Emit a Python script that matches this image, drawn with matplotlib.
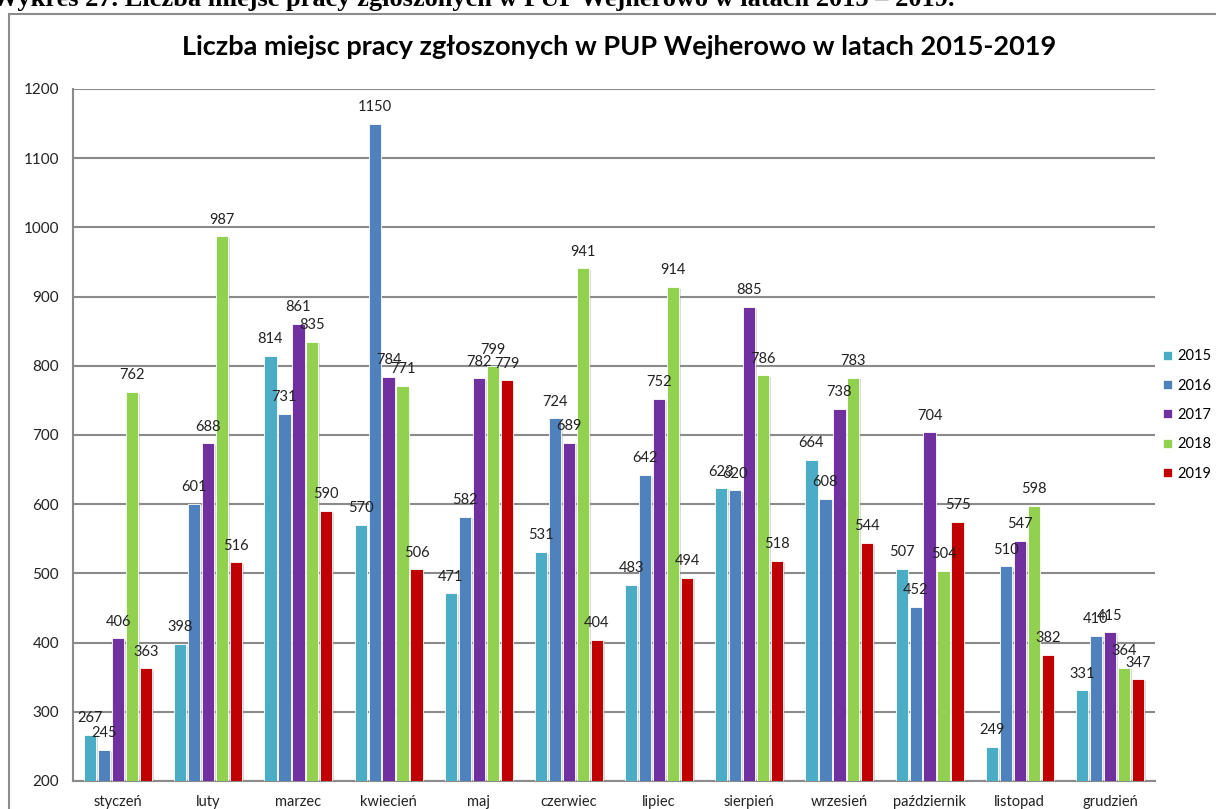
import matplotlib.pyplot as plt
import matplotlib.patheffects as pe
from matplotlib.patches import Patch, Rectangle
import numpy as np

months = ['styczeń', 'luty', 'marzec', 'kwiecień', 'maj', 'czerwiec', 'lipiec',
          'sierpień', 'wrzesień', 'październik', 'listopad', 'grudzień']
years = ['2015', '2016', '2017', '2018', '2019']
v2015 = [267, 398, 814, 570, 471, 531, 483, 623, 664, 507, 249, 331]
v2016 = [245, 601, 731, 1150, 582, 724, 642, 620, 608, 452, 510, 410]
v2017 = [406, 688, 861, 784, 782, 689, 752, 885, 738, 704, 547, 415]
v2018 = [762, 987, 835, 771, 799, 941, 914, 786, 783, 504, 598, 364]
v2019 = [363, 516, 590, 506, 779, 404, 494, 518, 544, 575, 382, 347]
colors = ['#4BACC6', '#4F81BD', '#7030A0', '#92D050', '#C00000']

plt.rcParams['font.family'] = ['Lato', 'DejaVu Sans']

W, H = 1216, 809
fig = plt.figure(figsize=(W / 100, H / 100), dpi=100)
ax = fig.add_axes((73 / W, 1 - 781 / H, (1155 - 73) / W, (781 - 89) / H))

# chart frame (cut off at right/bottom like the scan)
fig.patches.append(Rectangle((9 / W, -0.2), 1.5, 1 - 14 / H + 0.2, transform=fig.transFigure,
                             fill=False, edgecolor='#8c8c8c', linewidth=1.5))

# caption of the document, mostly cropped away at the top
fig.text(-8 / W, 1 - 6 / H,
         'Wykres 27. Liczba miejsc pracy zgłoszonych w PUP Wejherowo w latach 2015 – 2019.',
         family='Liberation Serif', fontweight='bold', fontsize=19, va='baseline', ha='left')

fig.text(619 / W, 1 - 47 / H, 'Liczba miejsc pracy zgłoszonych w PUP Wejherowo w latach 2015-2019',
         fontsize=19.5, fontweight='bold', ha='center', va='center')

x = np.arange(len(months))
pitch, bw = 0.155, 0.135
series = [v2015, v2016, v2017, v2018, v2019]
shadow = [pe.SimplePatchShadow(offset=(1.2, -1.2), shadow_rgbFace='#999999', alpha=0.35), pe.Normal()]
for i, vals in enumerate(series):
    xs = x + (i - 2) * pitch
    bars = ax.bar(xs, vals, width=bw, color=colors[i], edgecolor='white', linewidth=0.6,
                  zorder=3, label=years[i])
    for b in bars:
        b.set_path_effects(shadow)
    for xi, v in zip(xs, vals):
        ax.annotate(str(v), (xi, v), xytext=(0, 12), textcoords='offset points',
                    ha='center', va='center', fontsize=10.5, color='#222222', zorder=5)

ax.set_xlim(-0.5, len(months) - 0.5)
ax.set_ylim(200, 1200)
ax.set_yticks(np.arange(200, 1201, 100))
ax.set_xticks(x)
ax.set_xticklabels(months, fontsize=10.5)
ax.tick_params(axis='both', length=0, labelsize=11, colors='#222222')
ax.tick_params(axis='x', pad=10, labelsize=10.5)
ax.tick_params(axis='y', pad=10)
ax.grid(axis='y', color='#8a8a8a', linewidth=1.5, zorder=0)
for s in ['top', 'right']:
    ax.spines[s].set_visible(False)
for s in ['left', 'bottom']:
    ax.spines[s].set_color('#8a8a8a')
    ax.spines[s].set_linewidth(1.5)

handles = [Patch(facecolor=c, edgecolor='white', linewidth=0.5) for c in colors]
fig.legend(handles, years, loc='center left', bbox_to_anchor=(1163 / W, 1 - 415 / H),
           frameon=False, fontsize=10.5, handlelength=0.6, handleheight=0.6,
           handletextpad=0.4, labelspacing=1.05, borderaxespad=0, borderpad=0)

fig.savefig('out.png', dpi=100)
